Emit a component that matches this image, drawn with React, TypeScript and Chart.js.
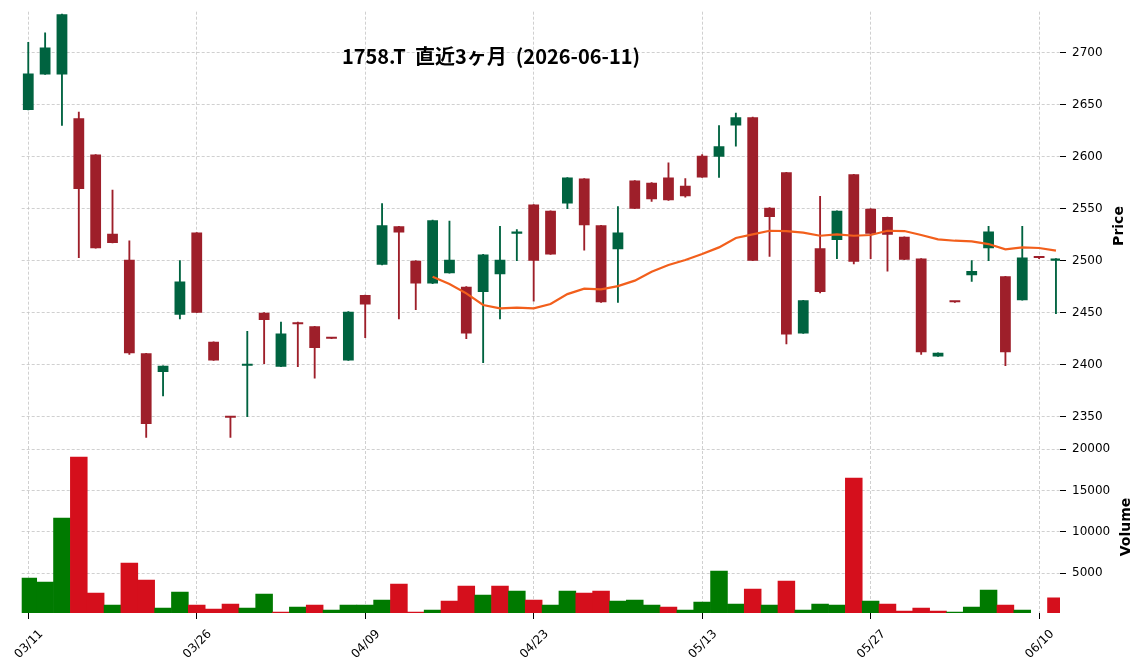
import React, { useEffect, useRef } from "react";
import { Chart, registerables } from "chart.js";

Chart.register(...registerables);

// ---- data ----
const dates = [
  "03/11", "03/12", "03/13", "03/16", "03/17", "03/18", "03/19", "03/23", "03/24", "03/25",
  "03/26", "03/27", "03/30", "03/31", "04/01", "04/02", "04/03", "04/06", "04/07", "04/08",
  "04/09", "04/10", "04/13", "04/14", "04/15", "04/16", "04/17", "04/20", "04/21", "04/22",
  "04/23", "04/24", "04/27", "04/28", "04/30", "05/01", "05/07", "05/08", "05/11", "05/12",
  "05/13", "05/14", "05/15", "05/18", "05/19", "05/20", "05/21", "05/22", "05/25", "05/26",
  "05/27", "05/28", "05/29", "06/01", "06/02", "06/03", "06/04", "06/05", "06/08", "06/09",
  "06/10", "06/11",
];

const opens = [
  2645, 2679, 2679, 2637, 2602, 2526, 2501, 2411, 2393, 2448,
  2527, 2422, 2350, 2399, 2450, 2398, 2440, 2437, 2426, 2404,
  2467, 2496, 2533, 2500, 2478, 2488, 2475, 2470, 2487, 2526,
  2554, 2548, 2555, 2579, 2534, 2511, 2577, 2575, 2580, 2572,
  2601, 2600, 2630, 2638, 2551, 2585, 2430, 2512, 2520, 2583,
  2550, 2542, 2523, 2502, 2408, 2461, 2486, 2512, 2485, 2462,
  2503, 2500,
];
const highs = [
  2710, 2719, 2737, 2643, 2602, 2568, 2519, 2411, 2399, 2500,
  2527, 2422, 2350, 2432, 2450, 2441, 2441, 2437, 2426, 2451,
  2467, 2555, 2533, 2500, 2539, 2538, 2475, 2506, 2533, 2530,
  2554, 2548, 2580, 2579, 2534, 2552, 2577, 2575, 2594, 2579,
  2602, 2630, 2642, 2638, 2551, 2585, 2462, 2562, 2548, 2583,
  2550, 2542, 2523, 2502, 2411.5, 2461, 2500, 2533, 2485, 2533,
  2503, 2502,
];
const lows = [
  2645, 2679, 2630, 2503, 2512, 2517, 2410, 2330, 2370, 2444,
  2450, 2404, 2330, 2350, 2401, 2398, 2398, 2387, 2425, 2404,
  2426, 2496, 2444, 2453, 2478, 2488, 2425, 2402, 2444, 2500,
  2461, 2506, 2550, 2510, 2460, 2460, 2550, 2557, 2558, 2561,
  2580, 2580, 2610, 2500, 2504, 2420, 2430, 2469, 2502, 2497,
  2502, 2490, 2501, 2410, 2408, 2460, 2480, 2500, 2399, 2462,
  2502, 2449,
];
const closes = [
  2680, 2705, 2737, 2569, 2512, 2517, 2411, 2343, 2399, 2480,
  2450, 2404, 2349, 2401, 2443, 2430, 2439, 2416, 2425, 2451,
  2458, 2534, 2527, 2478, 2539, 2501, 2430, 2506, 2501, 2528,
  2500, 2506, 2580, 2534, 2460, 2527, 2550, 2559, 2558, 2562,
  2580, 2610, 2638, 2500, 2542, 2429, 2462, 2470, 2548, 2499,
  2526, 2525, 2501, 2412, 2411.5, 2460, 2490, 2528, 2412, 2503,
  2502.5, 2502,
];
const volumes = [
  4430, 3950, 11690, 19070, 2620, 1170, 6250, 4190, 810, 2740,
  1170, 680, 1290, 810, 2500, 320, 930, 1170, 560, 1170,
  1170, 1770, 3710, 320, 560, 1650, 3470, 2380, 3470, 2860,
  1770, 1170, 2860, 2620, 2860, 1650, 1770, 1170, 930, 560,
  1530, 5280, 1290, 3100, 1170, 4070, 560, 1290, 1170, 16530,
  1650, 1290, 440, 810, 440, 320, 930, 2980, 1170, 560,
  0, 2020,
];
// 25-day moving average (starts at index 24)
const maStart = 24;
const maValues = [
  2484.6, 2477.6, 2468.6, 2457.4, 2454.2, 2454.8, 2454.2, 2458.3, 2467.9, 2473.1,
  2472.4, 2475.6, 2480.8, 2489.4, 2495.8, 2500.6, 2506.4, 2512.8, 2521.8, 2525.3,
  2528.8, 2528.5, 2526.9, 2524.0, 2525.3, 2524.0, 2524.7, 2528.8, 2528.5, 2524.7,
  2520.5, 2519.2, 2518.6, 2516.0, 2510.9, 2512.8, 2512.2, 2509.6,
];
const xTickIdx = [0, 10, 20, 30, 40, 50, 60];
const priceTicks = [2350, 2400, 2450, 2500, 2550, 2600, 2650, 2700];
const volumeTicks = [5000, 10000, 15000, 20000];

const TITLE = "1758.T  直近3ヶ月  (2026-06-11)";

// ---- styles ----
const W = 1144;
const PLOT_LEFT = 21.7;
const AXIS_W = 84;
const PRICE_H = 441;
const VOL_H = 229;
const X_MIN = -0.39;
const X_MAX = 61.24;
const UP = "#006340";
const DOWN = "#9e1f2a";
const VUP = "#007a00";
const VDOWN = "#d50f1c";
const GRID = "#c4c4c4";
const FONT = "'DejaVu Sans', sans-serif";

function xScale(showLabels: boolean) {
  return {
    type: "linear" as const,
    min: X_MIN,
    max: X_MAX,
    offset: false,
    afterBuildTicks: (s: any) => {
      s.ticks = xTickIdx.map((v) => ({ value: v }));
    },
    afterFit: (s: any) => {
      s.height = showLabels ? 57 : 0;
      s.paddingLeft = 0;
      s.paddingRight = 0;
    },
    grid: {
      offset: false,
      color: GRID,
      lineWidth: 0.8,
      drawTicks: showLabels,
      tickLength: 6,
      tickColor: "#000",
      tickWidth: 1,
      tickBorderDash: [],
    },
    border: { display: false, dash: [3, 2] },
    ticks: {
      display: showLabels,
      autoSkip: false,
      minRotation: 45,
      maxRotation: 45,
      padding: 8,
      labelOffset: 13,
      color: "#000",
      font: { family: FONT, size: 12 },
      callback: (v: any) => dates[v] ?? "",
    },
  };
}

function yScale(min: number, max: number, ticks: number[]) {
  return {
    type: "linear" as const,
    position: "right" as const,
    min,
    max,
    afterBuildTicks: (s: any) => {
      s.ticks = ticks.map((v) => ({ value: v }));
    },
    afterFit: (s: any) => {
      s.width = AXIS_W;
      s.paddingTop = 0;
      s.paddingBottom = 0;
    },
    grid: {
      offset: false,
      color: GRID,
      lineWidth: 0.8,
      drawTicks: true,
      tickLength: 6,
      tickColor: "#000",
      tickWidth: 1,
      tickBorderDash: [],
    },
    border: { display: false, dash: [3, 2] },
    ticks: {
      padding: 6,
      color: "#000",
      font: { family: FONT, size: 12 },
      callback: (v: any) => String(v),
    },
  };
}

export default function App() {
  const priceRef = useRef<HTMLCanvasElement | null>(null);
  const volRef = useRef<HTMLCanvasElement | null>(null);

  useEffect(() => {
    const candleColors = opens.map((o, i) => (closes[i] >= o ? UP : DOWN));
    const volColors = closes.map((c, i) => (i === 0 || c >= closes[i - 1] ? VUP : VDOWN));

    const price = new Chart(priceRef.current as HTMLCanvasElement, {
      type: "bar",
      data: {
        datasets: [
          {
            type: "line",
            label: "MA",
            data: maValues.map((v, i) => ({ x: i + maStart, y: v })),
            borderColor: "#f25f1c",
            borderWidth: 2.2,
            pointRadius: 0,
            tension: 0,
            order: 0,
          } as any,
          {
            type: "bar",
            label: "body",
            data: opens.map((o, i) => ({ x: i, y: [o, closes[i]] })),
            backgroundColor: candleColors,
            barPercentage: 0.64,
            categoryPercentage: 1,
            grouped: false,
            minBarLength: 2,
            order: 1,
          } as any,
          {
            type: "bar",
            label: "wick",
            data: lows.map((l, i) => ({ x: i, y: [l, highs[i]] })),
            backgroundColor: candleColors,
            barThickness: 1.2,
            grouped: false,
            order: 2,
          } as any,
        ],
      },
      options: {
        animation: false,
        responsive: false,
        events: [],
        layout: { padding: { left: PLOT_LEFT, right: 0, top: 11.7, bottom: 1 } },
        plugins: { legend: { display: false }, tooltip: { enabled: false } },
        scales: {
          x: xScale(false),
          y: yScale(2327.6, 2739.4, priceTicks),
        } as any,
      },
    });

    const vol = new Chart(volRef.current as HTMLCanvasElement, {
      type: "bar",
      data: {
        datasets: [
          {
            label: "Volume",
            data: volumes.map((v, i) => ({ x: i, y: v })),
            backgroundColor: volColors,
            barPercentage: 1,
            categoryPercentage: 1,
            grouped: false,
          } as any,
        ],
      },
      options: {
        animation: false,
        responsive: false,
        events: [],
        layout: { padding: { left: PLOT_LEFT, right: 0, top: 0, bottom: 0 } },
        plugins: { legend: { display: false }, tooltip: { enabled: false } },
        scales: {
          x: xScale(true),
          y: yScale(200, 21000, volumeTicks),
        } as any,
      },
    });

    return () => {
      price.destroy();
      vol.destroy();
    };
  }, []);

  return (
    <div style={{ position: "fixed", left: 0, top: 0, width: W, height: 670, background: "#fff", overflow: "hidden" }}>
      <canvas
        ref={priceRef}
        width={W}
        height={PRICE_H}
        style={{ position: "absolute", left: 0, top: 0, width: W, height: PRICE_H }}
      />
      <canvas
        ref={volRef}
        width={W}
        height={VOL_H}
        style={{ position: "absolute", left: 0, top: PRICE_H, width: W, height: VOL_H }}
      />
      <div
        style={{
          position: "absolute",
          left: 491,
          top: 55,
          transform: "translate(-50%, -50%)",
          font: "bold 20px 'Noto Sans CJK JP', sans-serif",
          whiteSpace: "pre",
          color: "#000",
        }}
      >
        {TITLE}
      </div>
      <div
        style={{
          position: "absolute",
          left: 1118,
          top: 226,
          transform: "translate(-50%, -50%) rotate(-90deg)",
          font: "bold 14px 'DejaVu Sans', sans-serif",
          color: "#000",
          whiteSpace: "pre",
        }}
      >
        Price
      </div>
      <div
        style={{
          position: "absolute",
          left: 1125,
          top: 527,
          transform: "translate(-50%, -50%) rotate(-90deg)",
          font: "bold 14px 'DejaVu Sans', sans-serif",
          color: "#000",
          whiteSpace: "pre",
        }}
      >
        Volume
      </div>
    </div>
  );
}
